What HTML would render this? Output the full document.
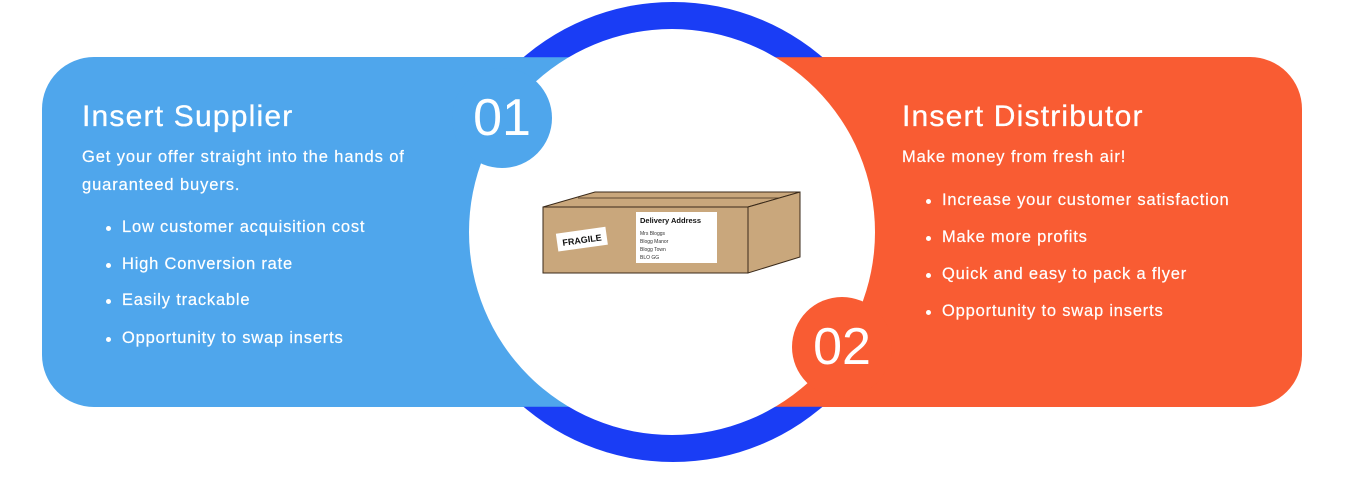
<!DOCTYPE html>
<html><head><style>
html,body{margin:0;padding:0;background:#fff;width:1349px;height:482px;overflow:hidden;position:relative;font-family:"Liberation Sans",sans-serif;color:#fff}
.a{position:absolute}
.card{position:absolute;top:57px;height:350px}
h2{position:absolute;margin:0;font-weight:normal;font-size:30px;letter-spacing:1.2px;white-space:nowrap;-webkit-text-stroke:0.3px #fff}
.t{position:absolute;font-size:16.5px;letter-spacing:0.9px;white-space:nowrap;-webkit-text-stroke:0.2px #fff}
.b{position:absolute;font-size:16.5px;letter-spacing:0.8px;white-space:nowrap;-webkit-text-stroke:0.2px #fff}
.b:before{content:"";position:absolute;left:-16px;top:8px;width:5px;height:5px;border-radius:50%;background:#fff}
.num{position:absolute;border-radius:50%;width:100px;height:100px;font-size:52px;line-height:100px;text-align:center}
</style></head><body>
<div class="card" style="left:42px;width:660px;background:#4fa6ec;border-radius:52px 0 0 52px"></div>
<div class="card" style="left:672px;width:630px;background:#f95c33;border-radius:0 52px 52px 0"></div>
<div class="a" style="left:443px;top:2px;width:460px;height:460px;border-radius:50%;background:#1a3df5;clip-path:polygon(0 0,100% 0,100% 12%,0 12%,0 88%,100% 88%,100% 100%,0 100%)"></div>
<div class="a" style="left:469px;top:29px;width:406px;height:406px;border-radius:50%;background:#fff"></div>
<div class="num" style="left:452px;top:68px;background:#4fa6ec">01</div>
<div class="num" style="left:792px;top:297px;background:#f95c33">02</div>

<svg class="a" style="left:530px;top:180px" width="280" height="100" viewBox="530 180 280 100">
<polygon points="543,207 595,192 800,192 748,207" fill="#c9a77c" stroke="#3a2a1a" stroke-width="1"/>
<line x1="578" y1="198" x2="785" y2="198" stroke="#3a2a1a" stroke-width="0.8"/>
<rect x="543" y="207" width="205" height="66" fill="#c9a77c" stroke="#3a2a1a" stroke-width="1"/>
<polygon points="748,207 800,192 800,257 748,273" fill="#c9a77c" stroke="#3a2a1a" stroke-width="1"/>
<g transform="rotate(-8 583 240)"><rect x="557" y="230" width="50" height="18" fill="#fff"/>
<text x="582" y="243" font-size="9" font-weight="bold" fill="#111" text-anchor="middle" font-family="Liberation Sans">FRAGILE</text></g>
<rect x="636" y="212" width="81" height="51" fill="#fff"/>
<text x="640" y="223" font-size="7.5" font-weight="bold" fill="#111" font-family="Liberation Sans">Delivery Address</text>
<text font-size="5" fill="#333" font-family="Liberation Sans"><tspan x="640" y="235">Mrs Bloggs</tspan><tspan x="640" y="243">Blogg Manor</tspan><tspan x="640" y="251">Blogg Town</tspan><tspan x="640" y="259">BLO GG</tspan></text>
</svg>

<h2 style="left:82px;top:100px">Insert Supplier</h2>
<div class="t" style="left:82px;top:148px">Get your offer straight into the hands of</div>
<div class="t" style="left:82px;top:176px">guaranteed buyers.</div>
<div class="b" style="left:122px;top:218px">Low customer acquisition cost</div>
<div class="b" style="left:122px;top:255px">High Conversion rate</div>
<div class="b" style="left:122px;top:291px">Easily trackable</div>
<div class="b" style="left:122px;top:329px">Opportunity to swap inserts</div>

<h2 style="left:902px;top:100px">Insert Distributor</h2>
<div class="t" style="left:902px;top:148px">Make money from fresh air!</div>
<div class="b" style="left:942px;top:191px">Increase your customer satisfaction</div>
<div class="b" style="left:942px;top:228px">Make more profits</div>
<div class="b" style="left:942px;top:265px">Quick and easy to pack a flyer</div>
<div class="b" style="left:942px;top:302px">Opportunity to swap inserts</div>
</body></html>
